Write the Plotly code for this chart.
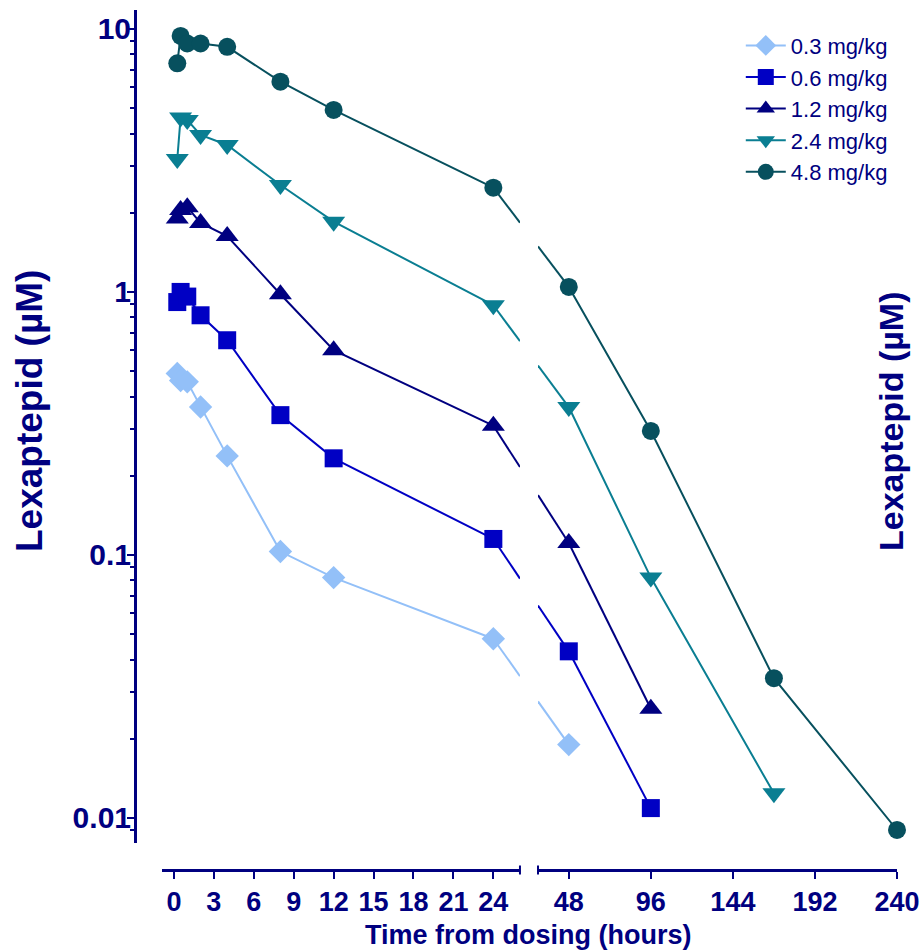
import math
import plotly.graph_objects as go

# ---------------- data ----------------
doses = ["0.3 mg/kg", "0.6 mg/kg", "1.2 mg/kg", "2.4 mg/kg", "4.8 mg/kg"]
colors = ["#93C0F8", "#0000C4", "#000080", "#0A7E92", "#07505E"]
symbols = ["diamond", "square", "triangle-up", "triangle-down", "circle"]
sizes = [18, 18, 20, 20, 18]

t_03 = [0.25, 0.5, 1, 2, 4, 8, 12, 24, 48]
c_03 = [0.49, 0.46, 0.455, 0.365, 0.238, 0.103, 0.082, 0.048, 0.019]

t_06 = [0.25, 0.5, 1, 2, 4, 8, 12, 24, 48, 96]
c_06 = [0.915, 1.0, 0.96, 0.815, 0.655, 0.34, 0.233, 0.115, 0.043, 0.0109]

t_12 = [0.25, 0.5, 1, 2, 4, 8, 12, 24, 48, 96]
c_12 = [1.9, 2.05, 2.1, 1.83, 1.63, 0.98, 0.60, 0.31, 0.111, 0.026]

t_24 = [0.25, 0.5, 1, 2, 4, 8, 12, 24, 48, 96, 168]
c_24 = [3.2, 4.6, 4.5, 3.95, 3.62, 2.55, 1.85, 0.89, 0.365, 0.082, 0.0124]

t_48 = [0.25, 0.5, 1, 2, 4, 8, 12, 24, 48, 96, 168, 240]
c_48 = [7.4, 9.4, 8.8, 8.8, 8.55, 6.3, 4.92, 2.49, 1.045, 0.296, 0.034, 0.0090]

times = [t_03, t_06, t_12, t_24, t_48]
concs = [c_03, c_06, c_12, c_24, c_48]

left_ticks = [0, 3, 6, 9, 12, 15, 18, 21, 24]
right_ticks = [48, 96, 144, 192, 240]
y_major = [0.01, 0.1, 1, 10]
y_labels = ["0.01", "0.1", "1", "10"]
y_minor = [m * 10 ** e for e in (-3, -2, -1, 0) for m in range(2, 10)]

# ---------------- layout geometry ----------------
W, H = 922, 952
ml, mr, mt, mb = 135, 25, 10, 82
left_range = [-0.9, 26]
right_range = [30, 240]
left_dom = [0.0354, 0.5052]
right_dom = [0.5289, 1.0]
y_dom = [0.0314, 1.0]
y_range = [math.log10(0.00803), math.log10(11.8)]
NAVY = "#000080"
pw = W - ml - mr
ph = H - mt - mb


def xpx(t, rng, dom):
    return dom[0] + (t - rng[0]) / (rng[1] - rng[0]) * (dom[1] - dom[0])


fig = go.Figure()

for i, name in enumerate(doses):
    t, c = times[i], concs[i]
    tl = [a for a in t if a <= left_range[1]]
    cl = c[:len(tl)]
    tr = t[len(tl):]
    cr = c[len(tl):]
    # connector across the axis break, computed in screen space
    t_a, c_a = tl[-1], cl[-1]
    t_b, c_b = tr[0], cr[0]
    pa = xpx(t_a, left_range, left_dom)
    pb = xpx(t_b, right_range, right_dom)
    la, lb = math.log10(c_a), math.log10(c_b)
    p_end = left_dom[1]
    p_start = right_dom[0]
    y_end = 10 ** (la + (lb - la) * (p_end - pa) / (pb - pa))
    y_start = 10 ** (la + (lb - la) * (p_start - pa) / (pb - pa))
    line = dict(color=colors[i], width=2)
    fig.add_trace(go.Scatter(x=[t_a, left_range[1]], y=[c_a, y_end], mode="lines",
                             line=line, xaxis="x", yaxis="y", showlegend=False,
                             hoverinfo="skip", legendgroup=name))
    fig.add_trace(go.Scatter(x=[right_range[0], t_b], y=[y_start, c_b], mode="lines",
                             line=line, xaxis="x2", yaxis="y", showlegend=False,
                             hoverinfo="skip", legendgroup=name))
    mk = dict(symbol=symbols[i], size=sizes[i], color=colors[i], line=dict(width=0))
    fig.add_trace(go.Scatter(x=tl, y=cl, mode="lines+markers", name=name, line=line,
                             marker=mk, xaxis="x", yaxis="y", legendgroup=name,
                             cliponaxis=False))
    fig.add_trace(go.Scatter(x=tr, y=cr, mode="lines+markers", name=name, line=line,
                             marker=mk, xaxis="x2", yaxis="y", legendgroup=name,
                             showlegend=False, cliponaxis=False))

# invisible carrier trace so that the label-only y axis is rendered
fig.add_trace(go.Scatter(x=t_48[:1], y=c_48[:1], mode="markers",
                         marker=dict(opacity=0), xaxis="x", yaxis="y2",
                         showlegend=False, hoverinfo="skip"))

xtickfont = dict(family="Liberation Sans, Arial, sans-serif", size=27, color=NAVY)
ytickfont = dict(family="Liberation Sans, Arial, sans-serif", size=30, color=NAVY)
xcommon = dict(showline=True, linecolor=NAVY, linewidth=2.5, ticks="outside",
               ticklen=7, tickwidth=2, tickcolor=NAVY, tickfont=xtickfont,
               showgrid=False, zeroline=False, anchor="free", position=0,
               tickmode="array", automargin=False)

fig.update_layout(
    width=W, height=H,
    margin=dict(l=ml, r=mr, t=mt, b=mb, autoexpand=False),
    paper_bgcolor="white", plot_bgcolor="white",
    font=dict(family="Liberation Sans, Arial, sans-serif", color=NAVY),
    xaxis=dict(domain=left_dom, range=left_range, tickvals=left_ticks,
               ticktext=[f"<b>{v}</b>" for v in left_ticks], **xcommon),
    xaxis2=dict(domain=right_dom, range=right_range, tickvals=right_ticks,
                ticktext=[f"<b>{v}</b>" for v in right_ticks], **xcommon),
    # y axis: line and ticks
    yaxis=dict(type="log", domain=y_dom, range=y_range, anchor="free", position=0,
               showline=True, linecolor=NAVY, linewidth=2.5, ticks="outside",
               ticklen=7, tickwidth=2, tickcolor=NAVY, showticklabels=False,
               tickmode="array", tickvals=y_major, automargin=False,
               minor=dict(tickmode="array", tickvals=y_minor, ticks="outside",
                          ticklen=4, tickwidth=2, tickcolor=NAVY),
               showgrid=False, zeroline=False),
    # y axis labels (drawn tight to the axis line)
    yaxis2=dict(type="log", domain=y_dom, range=y_range, anchor="free", position=0,
                overlaying="y", side="left", showline=False, ticks="",
                tickfont=ytickfont, tickmode="array", tickvals=y_major,
                ticktext=[f"<b>{v}</b>" for v in y_labels], ticklabelstandoff=4,
                automargin=False, showgrid=False, zeroline=False),
    legend=dict(x=0.795, y=0.983, xanchor="left", yanchor="top",
                font=dict(size=22, color=NAVY), bgcolor="rgba(0,0,0,0)",
                tracegroupgap=0, itemwidth=40),
    showlegend=True,
)

# axis-break caps
cap = 4.5 / ph
for xp in (left_dom[1], right_dom[0]):
    fig.add_shape(type="line", xref="paper", yref="paper", x0=xp, x1=xp,
                  y0=-cap, y1=cap, line=dict(color=NAVY, width=2))

fig.add_annotation(text="<b>Time from dosing (hours)</b>", xref="paper", yref="paper",
                   x=(528 - ml) / pw, y=(H - mb - 935) / ph,
                   xanchor="center", yanchor="middle", showarrow=False,
                   font=dict(size=27, color=NAVY))
for xpix, ypix, fs in ((30, 411, 37), (891, 422, 34)):
    fig.add_annotation(text="<b>Lexaptepid (µM)</b>", xref="paper", yref="paper",
                       x=(xpix - ml) / pw, y=(H - mb - ypix) / ph,
                       xanchor="center", yanchor="middle", showarrow=False,
                       textangle=-90, font=dict(size=fs, color=NAVY))

fig.write_html("out.html")
